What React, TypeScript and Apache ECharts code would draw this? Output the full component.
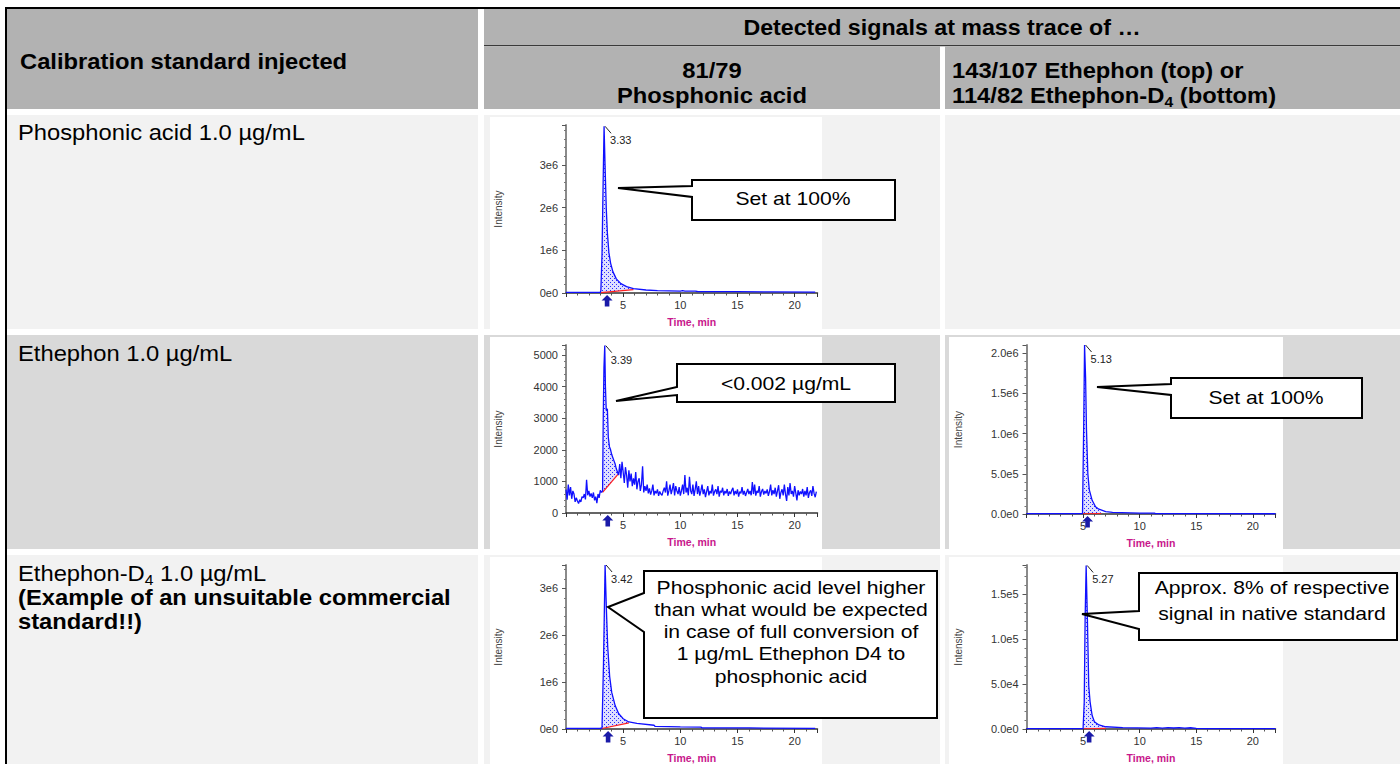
import React, { useEffect, useRef } from "react";
import * as echarts from "echarts";

const FONT = "Liberation Sans, Arial, Helvetica, sans-serif";

// ---------------- DATA ----------------
// Panel A: mass trace 81/79, Phosphonic acid 1.0 µg/mL injected
const aTimes = [0, 1, 2, 3.0, 3.05, 3.15, 3.25, 3.33, 3.42, 3.52, 3.62, 3.75, 3.9, 4.1, 4.4, 4.8, 5.3, 5.9, 7.0, 8.0, 10.0, 10.2, 10.4, 11.3, 11.5, 12, 15, 18, 21.8];
const aValues = [15000, 14000, 15000, 16000, 50000, 900000, 2600000, 3900000, 2950000, 2000000, 1400000, 950000, 700000, 500000, 330000, 220000, 150000, 100000, 70000, 55000, 45000, 55000, 45000, 42000, 35000, 33000, 30000, 25000, 20000];
const aPeak = { time: 3.33, label: "3.33" };
const aWindow = [3.05, 5.9];
const aBaseline = [10000, 80000];

// Panel B: mass trace 81/79, Ethephon 1.0 µg/mL injected (noisy)
const bSampleStep = 0.1;
const bPreStart = 0;
const bPreValues = [740, 420, 900, 560, 820, 450, 700, 600, 350, 480, 380, 300, 420, 350, 520, 480, 600, 430, 1050, 560, 700, 520, 620, 480, 650, 400, 520, 310, 600, 480, 720, 650];
const bPeakTimes = [3.2, 3.26, 3.32, 3.39, 3.45, 3.52, 3.62, 3.7, 3.8, 3.9, 4.0, 4.1, 4.2, 4.3, 4.4, 4.5, 4.6];
const bPeakValues = [700, 3100, 4600, 5300, 4000, 3250, 3300, 2400, 2100, 2000, 1850, 1750, 1650, 1550, 1400, 1300, 1200];
const bPostStart = 4.7;
const bPostValues = [
  1550, 1100, 1620, 1300, 950, 1450, 1200, 800, 1350, 1000, 1250, 850, 1100, 900,
  1300, 750, 1000, 1100, 700, 900, 1480, 650, 850, 700,
  900, 620, 780, 580, 700, 900, 560, 700, 620, 750, 540, 680, 600, 560, 700,
  800, 650, 1000, 550, 700, 900, 600, 750, 950, 560, 850, 700, 600, 820, 550,
  700, 900, 600, 1200, 650, 800, 560, 1150, 700, 600, 900, 540, 750, 1000, 600,
  850, 550, 700, 900, 600, 750, 500, 680, 850, 560, 700, 620, 900, 550, 680,
  750, 600, 850, 520, 700, 650, 800, 560, 700, 620, 760, 540, 680, 600, 720,
  800, 560, 700, 600, 750, 520, 680, 620, 820, 580, 700, 540, 650, 760, 600,
  700, 560, 980, 600, 900, 550, 700, 640, 850, 520, 680, 760, 580, 700, 620,
  750, 540, 680, 900, 560, 720, 600, 800, 520, 700, 880, 450, 650, 750, 560,
  900, 600, 380, 820, 560, 950, 600, 700, 520, 850, 640, 400, 720, 560, 680,
  600, 760, 520, 700, 560, 820, 480, 650, 720, 540, 850, 620, 500, 680,
];
const bTimes = [
  ...bPreValues.map((_, i) => +(bPreStart + i * bSampleStep).toFixed(2)),
  ...bPeakTimes,
  ...bPostValues.map((_, i) => +(bPostStart + i * bSampleStep).toFixed(2)),
];
const bValues = [...bPreValues, ...bPeakValues, ...bPostValues];
const bPeak = { time: 3.39, label: "3.39" };
const bWindow = [3.2, 4.6];
const bBaseline = [650, 1250];

// Panel C: mass trace 143/107, Ethephon 1.0 µg/mL injected
const cTimes = [0, 2, 4, 4.9, 4.95, 5.05, 5.13, 5.22, 5.3, 5.42, 5.55, 5.8, 6.1, 6.4, 7.0, 7.6, 10, 11.3, 11.4, 15, 22];
const cValues = [4000, 4000, 4000, 4500, 10000, 1050000, 2100000, 1700000, 1050000, 500000, 300000, 170000, 90000, 60000, 30000, 20000, 12000, 10000, 4000, 3500, 3000];
const cPeak = { time: 5.13, label: "5.13" };
const cWindow = [4.95, 6.6];
const cBaseline = [3000, 6000];

// Panel D: mass trace 81/79, Ethephon-D4 1.0 µg/mL injected
const dTimes = [0, 1.5, 3.0, 3.15, 3.28, 3.42, 3.53, 3.65, 3.82, 4.0, 4.3, 4.6, 5.0, 5.5, 6.2, 7.7, 7.8, 10, 11.8, 11.9, 16, 21.8];
const dValues = [15000, 14000, 16000, 20000, 1400000, 3500000, 2580000, 1750000, 1120000, 780000, 500000, 330000, 220000, 150000, 120000, 80000, 55000, 45000, 40000, 25000, 22000, 15000];
const dPeak = { time: 3.42, label: "3.42" };
const dWindow = [3.15, 5.5];
const dBaseline = [10000, 130000];

// Panel E: mass trace 114/82, Ethephon-D4 1.0 µg/mL injected
const eTimes = [0, 2, 4, 5.0, 5.02, 5.1, 5.18, 5.27, 5.38, 5.5, 5.62, 5.8, 6.0, 6.4, 7.0, 8.5, 11, 11.5, 12, 12.5, 13, 13.5, 14, 14.5, 15, 16, 22];
const eValues = [400, 400, 400, 450, 800, 30000, 123000, 182000, 123000, 48000, 30000, 15000, 8000, 4500, 2500, 1500, 1000, 1500, 1000, 1600, 1100, 1500, 1000, 1400, 800, 500, 400];
const ePeak = { time: 5.27, label: "5.27" };
const eWindow = [5.02, 7.0];
const eBaseline = [300, 600];

// axis scales
const xTicks = { min: 0, max: 22, interval: 5 };
const yScales = [
  { max: 3.93e6, interval: 1e6, style: "e0" },
  { max: 5320, interval: 1000, style: "plain" },
  { max: 2.1e6, interval: 5e5, style: "e1" },
  { max: 3.5e6, interval: 1e6, style: "e0" },
  { max: 1.825e5, interval: 5e4, style: "e1" },
];

// ---------------- LAYOUT ----------------
const GRIDS = [
  { left: 566, top: 125, width: 251.5, height: 168 },
  { left: 566, top: 345, width: 251.5, height: 168 },
  { left: 1026.5, top: 345, width: 249, height: 169 },
  { left: 566, top: 565, width: 251.5, height: 169 },
  { left: 1026.5, top: 565, width: 249, height: 169 },
];

const BG_HEAD = "#b2b2b2";
const BG_LIGHT = "#f2f2f2";
const BG_DARK = "#d9d9d9";
const SX_TABLE = 1.08;
const SX_CALLOUT = 1.13;

function fmt(style: string) {
  return (v: number) => {
    if (style === "plain") return String(v);
    if (v === 0) return style === "e0" ? "0e0" : "0.0e0";
    const e = Math.floor(Math.log10(v) + 1e-9);
    const m = v / Math.pow(10, e);
    return (style === "e0" ? m.toFixed(0) : m.toFixed(1)) + "e" + e;
  };
}

const panels = [
  { times: aTimes, values: aValues, peak: aPeak, win: aWindow, base: aBaseline },
  { times: bTimes, values: bValues, peak: bPeak, win: bWindow, base: bBaseline },
  { times: cTimes, values: cValues, peak: cPeak, win: cWindow, base: cBaseline },
  { times: dTimes, values: dValues, peak: dPeak, win: dWindow, base: dBaseline },
  { times: eTimes, values: eValues, peak: ePeak, win: eWindow, base: eBaseline },
];

function rect(x: number, y: number, w: number, h: number, fill: string, z = -10) {
  return { type: "rect", shape: { x, y, width: w, height: h }, style: { fill }, z, silent: true };
}

function txt(text: string, x: number, y: number, o: any = {}) {
  const align = o.align || "left";
  return {
    type: "text",
    x,
    y,
    scaleX: o.sx || SX_TABLE,
    z: 101,
    silent: true,
    style: {
      text,
      x: 0,
      y: 0,
      fill: "#000",
      fontSize: o.size || 22,
      fontWeight: o.bold ? "bold" : "normal",
      fontFamily: FONT,
      textAlign: align,
      align,
      textVerticalAlign: "middle",
      verticalAlign: "middle",
      rich: o.rich,
    },
  };
}

function subRich(bold: boolean) {
  const w = bold ? "bold" : "normal";
  return {
    n: { fontSize: 22, fontWeight: w, fontFamily: FONT, fill: "#000", lineHeight: 28 },
    s: { fontSize: 14.5, fontWeight: w, fontFamily: FONT, fill: "#000", lineHeight: 15, verticalAlign: "bottom" },
  };
}

function callout(points: number[][]) {
  return {
    type: "polygon",
    shape: { points },
    style: { fill: "#fff", stroke: "#000", lineWidth: 2 },
    z: 100,
    silent: true,
  };
}

function ctxt(text: string, x: number, y: number) {
  return txt(text, x, y, { align: "center", size: 18.7, sx: SX_CALLOUT });
}

function buildGraphics() {
  const g: any[] = [];
  // frame
  g.push(rect(5, 7, 1395, 2, "#000"));
  g.push(rect(5, 7, 2, 757, "#000"));
  // header
  g.push(rect(7, 9, 471, 100, BG_HEAD));
  g.push(rect(484, 9, 916, 36, BG_HEAD));
  g.push(rect(484, 45, 916, 1.3, "#3a3a3a"));
  g.push(rect(484, 46.3, 456, 62.7, BG_HEAD));
  g.push(rect(945, 46.3, 455, 62.7, BG_HEAD));
  // rows
  const rows = [
    [115, 214, BG_LIGHT],
    [335, 214, BG_DARK],
    [555, 209, BG_LIGHT],
  ];
  rows.forEach(([y, h, c]: any) => {
    g.push(rect(7, y, 471, h, c));
    g.push(rect(484, y, 456, h, c));
    g.push(rect(945, y, 455, h, c));
  });
  // chart image backgrounds
  [
    [490, 117, 332, 212],
    [490, 337, 332, 212],
    [949, 337, 334, 212],
    [490, 557, 332, 207],
    [949, 557, 334, 207],
  ].forEach(([x, y, w, h]) => g.push(rect(x, y, w, h, "#fff", -5)));

  // header texts
  g.push(txt("Calibration standard injected", 20, 61, { bold: true }));
  g.push(txt("Detected signals at mass trace of …", 942, 28, { bold: true, align: "center", size: 21.5 }));
  g.push(txt("81/79", 712, 70, { bold: true, align: "center" }));
  g.push(txt("Phosphonic acid", 712, 95, { bold: true, align: "center" }));
  g.push(txt("143/107 Ethephon (top) or", 952, 70, { bold: true }));
  g.push(txt("{n|114/82 Ethephon-D}{s|4}{n| (bottom)}", 952, 95, { bold: true, rich: subRich(true) }));

  // row labels
  g.push(txt("Phosphonic acid 1.0 µg/mL", 18, 132));
  g.push(txt("Ethephon 1.0 µg/mL", 18, 353));
  g.push(txt("{n|Ethephon-D}{s|4}{n| 1.0 µg/mL}", 18, 573, { rich: subRich(false) }));
  g.push(txt("(Example of an unsuitable commercial", 18, 597, { bold: true }));
  g.push(txt("standard!!)", 18, 621, { bold: true }));

  // callouts
  g.push(callout([[692, 180], [895, 180], [895, 220], [692, 220], [692, 197], [618, 188], [692, 186]]));
  g.push(ctxt("Set at 100%", 793, 198));

  g.push(callout([[677, 364], [895, 364], [895, 402], [677, 402], [677, 395], [616, 401], [677, 387]]));
  g.push(ctxt("<0.002 µg/mL", 786, 383));

  g.push(callout([[1171, 378], [1362, 378], [1362, 418], [1171, 418], [1171, 395], [1097, 387], [1171, 384]]));
  g.push(ctxt("Set at 100%", 1266, 397));

  g.push(callout([[644, 571], [937, 571], [937, 718], [644, 718], [644, 632], [608, 607], [644, 593]]));
  [
    "Phosphonic acid level higher",
    "than what would be expected",
    "in case of full conversion of",
    "1 µg/mL Ethephon D4 to",
    "phosphonic acid",
  ].forEach((s, i) => g.push(ctxt(s, 791, 587 + i * 22.3)));

  g.push(callout([[1139, 573], [1397, 573], [1397, 640], [1139, 640], [1139, 629], [1082, 614], [1139, 611]]));
  g.push(ctxt("Approx. 8% of respective", 1272, 587));
  g.push(ctxt("signal in native standard", 1272, 613));
  return g;
}

function makeDotPattern(): any {
  const fallback = "rgba(60,60,235,0.33)";
  try {
    const c = document.createElement("canvas");
    c.width = 4;
    c.height = 4;
    const ctx = c.getContext("2d");
    if (!ctx) return fallback;
    ctx.fillStyle = "rgba(110,110,255,0.22)";
    ctx.fillRect(0, 0, 4, 4);
    ctx.fillStyle = "#2a2aff";
    ctx.fillRect(0, 0, 1, 1);
    ctx.fillRect(2, 2, 1, 1);
    return { image: c.toDataURL(), repeat: "repeat", imageWidth: 4, imageHeight: 4 };
  } catch (e) {
    return fallback;
  }
}

function buildOption() {
  const dotFill = makeDotPattern();
  const grid = GRIDS.map((g) => ({ ...g, containLabel: false }));
  const xAxis = GRIDS.map((_, i) => ({
    type: "value",
    gridIndex: i,
    min: xTicks.min,
    max: xTicks.max,
    interval: xTicks.interval,
    axisLine: { show: true, lineStyle: { color: "#333", width: 1.5 } },
    axisTick: { show: true, length: 4, lineStyle: { color: "#333" } },
    minorTick: { show: true, splitNumber: 5, length: 2.5, lineStyle: { color: "#555" } },
    splitLine: { show: false },
    axisLabel: { fontSize: 11, color: "#333", margin: 6, fontFamily: FONT, showMinLabel: false, showMaxLabel: false },
    name: "Time, min",
    nameLocation: "middle",
    nameGap: 23,
    nameTextStyle: { color: "#c8188c", fontWeight: "bold", fontSize: 10.5, fontFamily: FONT },
  }));
  const yAxis = yScales.map((s, i) => ({
    type: "value",
    gridIndex: i,
    min: 0,
    max: s.max,
    interval: s.interval,
    axisLine: { show: true, lineStyle: { color: "#8a8a8a", width: 2 } },
    axisTick: { show: true, length: 4, lineStyle: { color: "#555" } },
    minorTick: { show: true, splitNumber: 5, length: 2, lineStyle: { color: "#777" } },
    splitLine: { show: false },
    axisLabel: { fontSize: 11, color: "#333", margin: 8, fontFamily: FONT, showMaxLabel: false, formatter: fmt(s.style) },
    name: "Intensity",
    nameLocation: "middle",
    nameRotate: 90,
    nameGap: 63,
    nameTextStyle: { fontSize: 10, color: "#444", fontFamily: FONT },
  }));

  const series: any[] = [];
  panels.forEach((p, i) => {
    const peakIdx = p.times.indexOf(p.peak.time);
    const peakV = p.values[peakIdx];
    series.push({
      type: "custom",
      xAxisIndex: i,
      yAxisIndex: i,
      z: 2,
      silent: true,
      data: [[p.win[0], p.base[0]]],
      renderItem: (_params: any, api: any) => {
        const pts = [api.coord([p.win[0], p.base[0]])];
        p.times.forEach((t, k) => {
          if (t >= p.win[0] && t <= p.win[1]) pts.push(api.coord([t, p.values[k]]));
        });
        pts.push(api.coord([p.win[1], p.base[1]]));
        return { type: "polygon", shape: { points: pts }, style: { fill: dotFill } };
      },
    });
    series.push({
      type: "line",
      xAxisIndex: i,
      yAxisIndex: i,
      z: 3,
      silent: true,
      symbol: "none",
      data: [
        [p.win[0], p.base[0]],
        [p.win[1], p.base[1]],
      ],
      lineStyle: { color: "#ff2020", width: 1.2 },
    });
    series.push({
      type: "line",
      xAxisIndex: i,
      yAxisIndex: i,
      z: 4,
      silent: true,
      symbol: "none",
      data: p.times.map((t, k) => [t, p.values[k]]),
      lineStyle: { color: "#1010ff", width: 1.3 },
    });
    series.push({
      type: "custom",
      xAxisIndex: i,
      yAxisIndex: i,
      z: 5,
      silent: true,
      data: [[p.peak.time, peakV]],
      renderItem: (_params: any, api: any) => {
        const c = api.coord([p.peak.time, peakV]);
        const a = api.coord([p.peak.time, 0]);
        const ax = a[0] + 3;
        const ay = a[1];
        return {
          type: "group",
          children: [
            { type: "line", shape: { x1: c[0] + 1, y1: c[1], x2: c[0] + 7, y2: c[1] + 7 }, style: { stroke: "#222", lineWidth: 1 } },
            {
              type: "text",
              style: {
                text: p.peak.label,
                x: c[0] + 6,
                y: c[1] + 14,
                fill: "#222",
                fontSize: 11,
                fontFamily: FONT,
                textAlign: "left",
                align: "left",
                textVerticalAlign: "middle",
                verticalAlign: "middle",
              },
            },
            {
              type: "polygon",
              shape: {
                points: [
                  [ax, ay + 2],
                  [ax + 5.5, ay + 7.5],
                  [ax + 2.3, ay + 7.5],
                  [ax + 2.3, ay + 13.5],
                  [ax - 2.3, ay + 13.5],
                  [ax - 2.3, ay + 7.5],
                  [ax - 5.5, ay + 7.5],
                ],
              },
              style: { fill: "#1a1aa8" },
            },
          ],
        };
      },
    });
  });

  return {
    animation: false,
    textStyle: { fontFamily: FONT },
    grid,
    xAxis,
    yAxis,
    series,
    graphic: { elements: buildGraphics() },
  };
}

export default function App() {
  const ref = useRef<HTMLDivElement>(null);
  useEffect(() => {
    document.body.style.margin = "0";
    if (!ref.current) return;
    const chart = echarts.init(ref.current, undefined, { renderer: "svg" });
    chart.setOption(buildOption() as any);
    return () => chart.dispose();
  }, []);
  return <div ref={ref} style={{ width: 1400, height: 764, background: "#fff" }} />;
}
